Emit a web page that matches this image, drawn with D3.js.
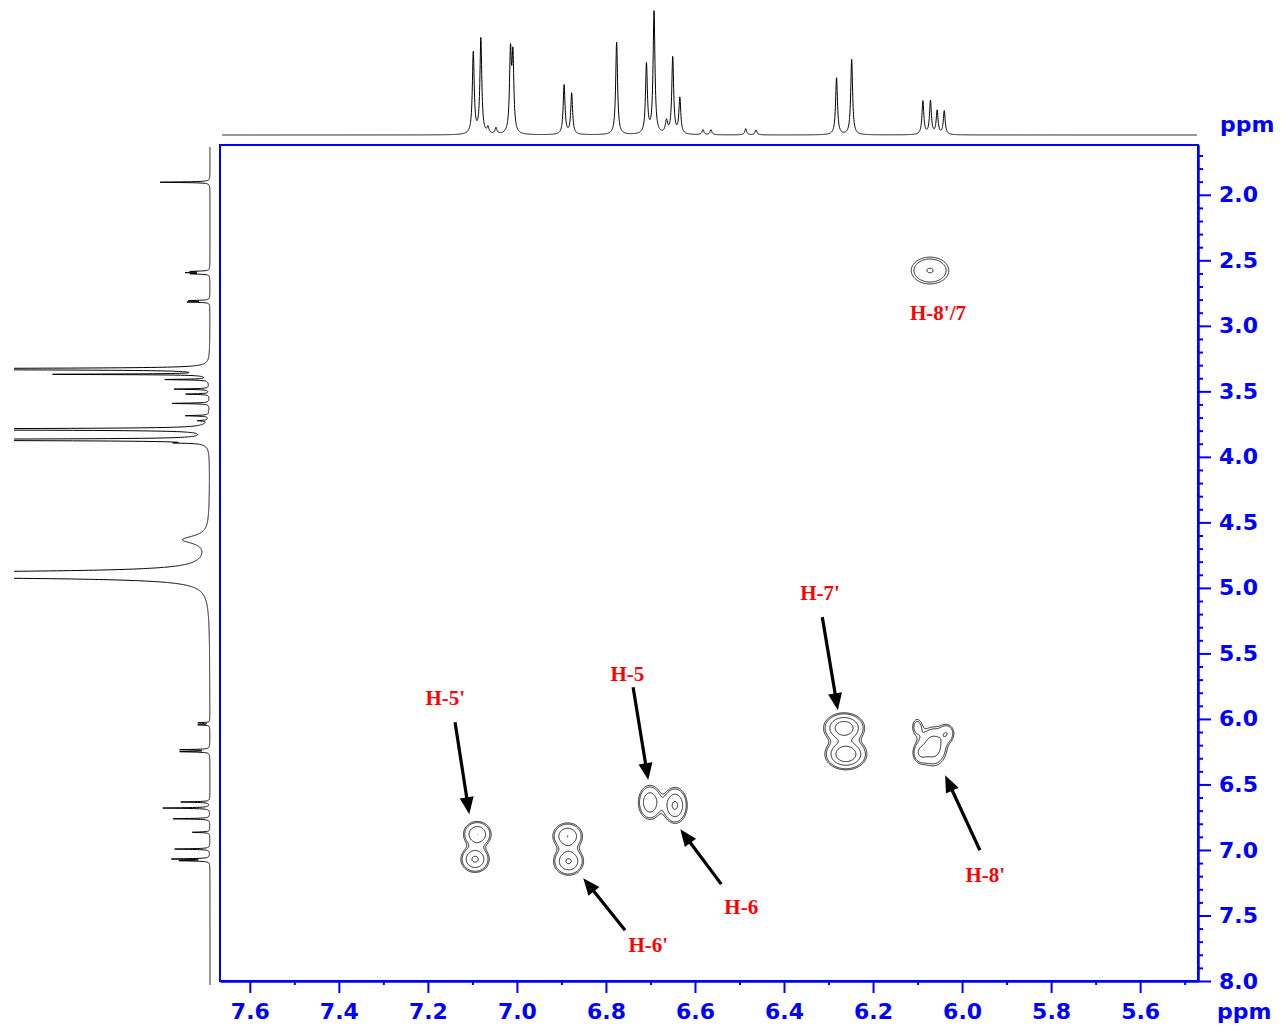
<!DOCTYPE html>
<html>
<head>
<meta charset="utf-8">
<script src="https://cdn.jsdelivr.net/npm/d3@7"></script>
<style>
  body { margin: 0; background: #fff; }
  svg { display: block; }
</style>
</head>
<body>
<div id="chart"></div>
<script>
// ── Data ──────────────────────────────────────────────────────────────────────
const F2_RANGE = [7.667, 5.47];   // ppm, left -> right (horizontal)
const F1_RANGE = [1.62, 8.0];     // ppm, top -> bottom (vertical)
const F2_MAJOR = [7.6, 7.4, 7.2, 7.0, 6.8, 6.6, 6.4, 6.2, 6.0, 5.8, 5.6];
const F2_MINOR = [7.5, 7.3, 7.1, 6.9, 6.7, 6.5, 6.3, 6.1, 5.9, 5.7, 5.5];
const F1_MAJOR = [2.0, 2.5, 3.0, 3.5, 4.0, 4.5, 5.0, 5.5, 6.0, 6.5, 7.0, 7.5, 8.0];
const F1_MINOR = d3.range(17, 80).map(d => d / 10).filter(d => Math.round(d * 10) % 5 !== 0);

// 1D projection peaks: [ppm, intensity (0-100), half-width ppm]
const TOP_PEAKS = [
  [7.098, 66, 0.0025], [7.081, 77, 0.0025], [7.065, 5, 0.0025], [7.047, 5, 0.0025],
  [7.0145, 63, 0.0025], [7.009, 60, 0.0025],
  [6.894, 40, 0.0025], [6.877, 33, 0.0025],
  [6.776, 75, 0.0025],
  [6.709, 56, 0.0025], [6.692, 99, 0.0025],
  [6.664, 10, 0.003], [6.650, 62, 0.0025], [6.634, 29, 0.0025],
  [6.582, 4, 0.0025], [6.564, 4, 0.0025],
  [6.486, 5, 0.0025], [6.463, 4, 0.0025],
  [6.282, 46, 0.0025], [6.248, 61, 0.0025],
  [6.088, 27, 0.0025], [6.071, 27, 0.0025], [6.056, 19, 0.0025], [6.040, 19, 0.0025],
];

const LEFT_PEAKS = [
  [1.904, 25.5, 0.003],
  [2.585, 9, 0.003], [2.594, 11, 0.003], [2.603, 9, 0.003],
  [2.808, 10, 0.003], [2.818, 11, 0.003],
  [3.330, 400, 0.0035], [3.370, 78, 0.003], [3.410, 22, 0.003],
  [3.483, 18, 0.003], [3.521, 12, 0.003], [3.592, 19, 0.003],
  [3.686, 12, 0.003], [3.724, 5, 0.003],
  [3.790, 400, 0.0035], [3.870, 400, 0.0035], [3.894, 10, 0.003],
  [4.632, 13, 0.035],
  [4.900, 1200, 0.008],
  [6.030, 6, 0.003], [6.045, 6, 0.003],
  [6.235, 15, 0.003], [6.250, 15, 0.003],
  [6.634, 15, 0.003], [6.680, 24, 0.003], [6.762, 19, 0.003],
  [6.865, 9, 0.003], [6.993, 18, 0.003], [7.069, 19, 0.003], [7.082, 15, 0.003],
];

// cross peaks: [f2 ppm, f1 ppm, amplitude, sigma f2 ppm, sigma f1 ppm]
const CROSS_PEAKS = [
  [6.072, 2.578, 0.31, 0.028, 0.068],    // H-8'/7
  [6.265, 6.070, 0.82, 0.0225, 0.057],   // H-7'
  [6.261, 6.269, 0.90, 0.0225, 0.057],
  [6.065, 6.210, 0.45, 0.018, 0.085],    // H-8'
  [6.101, 6.060, 0.18, 0.009, 0.050],
  [6.034, 6.109, 0.25, 0.011, 0.046],
  [6.094, 6.260, 0.25, 0.011, 0.050],
  [6.701, 6.637, 0.50, 0.0146, 0.0725],  // H-5 / H-6
  [6.645, 6.660, 0.60, 0.0146, 0.0725],
  [6.886, 6.895, 0.55, 0.018, 0.055],    // H-6'
  [6.884, 7.086, 0.58, 0.018, 0.057],
  [7.089, 6.880, 0.55, 0.0168, 0.053],   // H-5'
  [7.094, 7.071, 0.60, 0.0168, 0.053],
];
const CONTOUR_LEVELS = [0.1, 0.135, 0.3, 0.55];

// annotations: label position and arrow (from -> tip), all in ppm [f2, f1]
const LABELS = [
  { text: "H-8'/7", at: [6.054, 2.902], from: null, to: null },
  { text: "H-7'",   at: [6.319, 5.040], from: [6.314, 5.223], to: [6.279, 5.933] },
  { text: "H-5",    at: [6.752, 5.651], from: [6.739, 5.758], to: [6.705, 6.467] },
  { text: "H-5'",   at: [7.161, 5.834], from: [7.139, 6.025], to: [7.107, 6.727] },
  { text: "H-8'",   at: [5.948, 7.185], from: [5.960, 7.002], to: [6.038, 6.429] },
  { text: "H-6",    at: [6.496, 7.429], from: [6.541, 7.261], to: [6.633, 6.842] },
  { text: "H-6'",   at: [6.705, 7.719], from: [6.757, 7.612], to: [6.851, 7.215] },
];

// ── Layout ────────────────────────────────────────────────────────────────────
const W = 1286, H = 1029;
const box = { left: 220, top: 145, right: 1198, bottom: 981 };
const BLUE = "#0000ff";
const AXIS_FONT = "'DejaVu Sans', Verdana, sans-serif";

const svg = d3.select("#chart").append("svg")
  .attr("width", W).attr("height", H)
  .style("background", "#fff");

// ── Scales ────────────────────────────────────────────────────────────────────
const x = d3.scaleLinear().domain(F2_RANGE).range([box.left, box.right]);
const y = d3.scaleLinear().domain(F1_RANGE).range([box.top, box.bottom]);
const topI  = d3.scaleLinear().domain([0, 100]).range([135, 11]);
const leftI = d3.scaleLinear().domain([0, 100]).range([210, 14]);

function lorentz(peaks, ppm) {
  let s = 0;
  for (const [c, h, w] of peaks) {
    const d = (ppm - c) / w;
    s += h / (1 + d * d);
  }
  return s;
}

// ── Top projection ────────────────────────────────────────────────────────────
const topPts = d3.range(x.invert(1197), x.invert(222), 0.0004)
  .map(p => [p, lorentz(TOP_PEAKS, p)]);
svg.append("path")
  .datum(topPts)
  .attr("fill", "none").attr("stroke", "#000").attr("stroke-width", 1)
  .attr("d", d3.line().x(d => x(d[0])).y(d => topI(d[1])));

// ── Left projection ───────────────────────────────────────────────────────────
svg.append("clipPath").attr("id", "leftclip")
  .append("rect").attr("x", leftI(100)).attr("y", 0).attr("width", 220).attr("height", H);

const leftPts = d3.range(y.invert(147), y.invert(985), 0.0008)
  .map(p => [p, lorentz(LEFT_PEAKS, p)]);
svg.append("path")
  .datum(leftPts)
  .attr("clip-path", "url(#leftclip)")
  .attr("fill", "none").attr("stroke", "#000").attr("stroke-width", 1)
  .attr("d", d3.line().x(d => leftI(Math.min(d[1], 101))).y(d => y(d[0])));

// ── Contours ──────────────────────────────────────────────────────────────────
const nx = box.right - box.left, ny = box.bottom - box.top;
const grid = new Float64Array(nx * ny);
for (let j = 0; j < ny; j++) {
  const f1 = y.invert(box.top + j + 0.5);
  for (let i = 0; i < nx; i++) {
    const f2 = x.invert(box.left + i + 0.5);
    let v = 0;
    for (const [c2, c1, a, s2, s1] of CROSS_PEAKS) {
      const dx = (f2 - c2) / s2, dy = (f1 - c1) / s1;
      const r = dx * dx + dy * dy;
      if (r < 40) v += a * Math.exp(-r / 2);
    }
    grid[j * nx + i] = v;
  }
}
const contours = d3.contours().size([nx, ny]).thresholds(CONTOUR_LEVELS)(grid);
svg.append("g")
  .attr("transform", `translate(${box.left},${box.top})`)
  .selectAll("path").data(contours).join("path")
  .attr("fill", "none").attr("stroke", "#222").attr("stroke-width", 1)
  .attr("d", d3.geoPath());

// ── Frame & axes ──────────────────────────────────────────────────────────────
svg.append("rect")
  .attr("x", box.left).attr("y", box.top)
  .attr("width", box.right - box.left).attr("height", box.bottom - box.top)
  .attr("fill", "none").attr("stroke", BLUE).attr("stroke-width", 2);

function styleAxis(g) {
  g.select(".domain").attr("stroke", BLUE).attr("stroke-width", 2);
  g.selectAll(".tick line").attr("stroke", BLUE).attr("stroke-width", 2);
  g.selectAll(".tick text")
    .attr("fill", BLUE).style("font-family", AXIS_FONT)
    .style("font-weight", "bold").style("font-size", "22px");
}

svg.append("g").attr("transform", `translate(0,${box.bottom})`)
  .call(d3.axisBottom(x).tickValues(F2_MINOR.filter(v => v < F2_RANGE[0] && v > F2_RANGE[1]))
    .tickSize(4).tickSizeOuter(0).tickFormat(""))
  .call(styleAxis);
svg.append("g").attr("transform", `translate(0,${box.bottom})`)
  .call(d3.axisBottom(x).tickValues(F2_MAJOR).tickSize(12).tickSizeOuter(0).tickPadding(10)
    .tickFormat(d3.format(".1f")))
  .call(styleAxis);

svg.append("g").attr("transform", `translate(${box.right},0)`)
  .call(d3.axisRight(y).tickValues(F1_MINOR).tickSize(5).tickSizeOuter(0).tickFormat(""))
  .call(styleAxis);
svg.append("g").attr("transform", `translate(${box.right},0)`)
  .call(d3.axisRight(y).tickValues(F1_MAJOR).tickSize(13).tickSizeOuter(0).tickPadding(8)
    .tickFormat(d3.format(".1f")))
  .call(styleAxis);

[[1220, 132], [1217, 1019]].forEach(([px, py]) => {
  svg.append("text").attr("x", px).attr("y", py)
    .attr("fill", BLUE).style("font-family", AXIS_FONT)
    .style("font-weight", "bold").style("font-size", "22px")
    .text("ppm");
});

// ── Annotations ───────────────────────────────────────────────────────────────
const ann = svg.append("g");
LABELS.forEach(l => {
  ann.append("text")
    .attr("x", x(l.at[0])).attr("y", y(l.at[1])).attr("dy", "0.35em")
    .attr("text-anchor", "middle")
    .attr("fill", "#ff0000")
    .style("font-family", "'Liberation Serif', 'Times New Roman', serif")
    .style("font-weight", "bold").style("font-size", "21px")
    .text(l.text);
  if (!l.from) return;
  const x0 = x(l.from[0]), y0 = y(l.from[1]);
  const x1 = x(l.to[0]),   y1 = y(l.to[1]);
  const len = Math.hypot(x1 - x0, y1 - y0);
  const ux = (x1 - x0) / len, uy = (y1 - y0) / len;
  const hl = 17, hw = 7;
  const bx = x1 - ux * hl, by = y1 - uy * hl;
  ann.append("line")
    .attr("x1", x0).attr("y1", y0).attr("x2", bx + ux * 2).attr("y2", by + uy * 2)
    .attr("stroke", "#000").attr("stroke-width", 3.2);
  ann.append("path")
    .attr("d", `M${x1},${y1}L${bx - uy * hw},${by + ux * hw}L${bx + uy * hw},${by - ux * hw}Z`)
    .attr("fill", "#000");
});
</script>
</body>
</html>
